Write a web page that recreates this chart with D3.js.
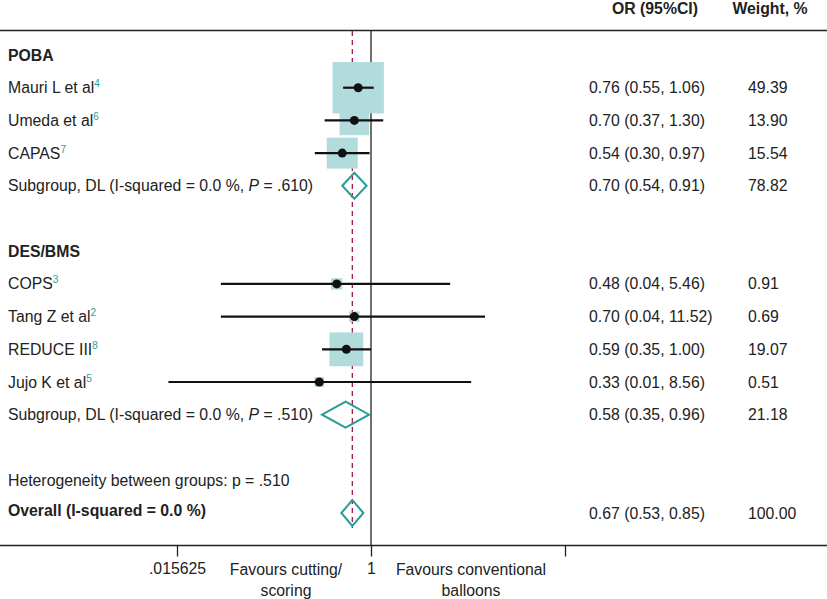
<!DOCTYPE html>
<html><head><meta charset="utf-8">
<script src="https://cdn.jsdelivr.net/npm/d3@7/dist/d3.min.js"></script>
<style>
body{margin:0;background:#fff;}
svg{display:block;font-family:"Liberation Sans",Arial,Helvetica,sans-serif;}
</style></head>
<body><svg id="c" width="827" height="599"></svg>
<script>
// ---- data ----
const studyNames = ["Mauri L et al","Umeda et al","CAPAS","COPS","Tang Z et al","REDUCE III","Jujo K et al"];
const studyRefs  = ["4","6","7","3","2","8","5"];
const studyGroup = ["POBA","POBA","POBA","DES/BMS","DES/BMS","DES/BMS","DES/BMS"];
const studyOR    = [0.76,0.70,0.54,0.48,0.70,0.59,0.33];
const studyLo    = [0.55,0.37,0.30,0.04,0.04,0.35,0.013];
const studyHi    = [1.06,1.30,0.97,5.46,11.52,1.00,8.56];
const studyW     = [49.39,13.90,15.54,0.91,0.69,19.07,0.51];
const groups     = ["POBA","DES/BMS"];
const subOR      = [0.70,0.58];
const subLo      = [0.54,0.35];
const subHi      = [0.91,0.96];
const subW       = [78.82,21.18];
const subP       = [".610",".510"];
const overallOR = 0.67, overallLo = 0.53, overallHi = 0.85, overallW = 100.00;
const hetP = ".510";
const xTicks = [0.015625, 1, 64];
const xTickLabels = [".015625","1",""];

// ---- layout ----
const svg = d3.select("#c");
const W = 827, H = 599;
const teal = "#2a9d96", boxFill = "#b2dcdc", red = "#a3164b";
const fs = 15.8;
const x = d3.scaleLog().base(2).domain([1/64, 64]).range([177, 565]);
const rowH = 32.7;
const y0 = 55;
const rows = [];
let r = 0;
groups.forEach((g, gi) => {
  rows.push({type:"header", label:g, row:r++});
  studyNames.forEach((n, i) => {
    if (studyGroup[i] === g) rows.push({type:"study", i, row:r++});
  });
  rows.push({type:"sub", gi, row:r++});
  r++;
});
const rowY = k => y0 + k * rowH;
const fmt = v => v.toFixed(2);

svg.append("line").attr("x1",0).attr("x2",W).attr("y1",30.5).attr("y2",30.5).attr("stroke","#222").attr("stroke-width",1.3);
const axisY = 545.5;
svg.append("line").attr("x1",0).attr("x2",W).attr("y1",axisY).attr("y2",axisY).attr("stroke","#222").attr("stroke-width",1.3);

svg.append("text").attr("x",655).attr("y",13.5).attr("text-anchor","middle").attr("font-weight","bold").attr("font-size",fs).attr("fill","#222").text("OR (95%CI)");
svg.append("text").attr("x",770).attr("y",13.5).attr("text-anchor","middle").attr("font-weight","bold").attr("font-size",fs).attr("fill","#222").text("Weight, %");

svg.append("line").attr("x1",x(1)).attr("x2",x(1)).attr("y1",31).attr("y2",axisY).attr("stroke","#222").attr("stroke-width",1.3);
svg.append("line").attr("x1",x(overallOR)).attr("x2",x(overallOR)).attr("y1",31).attr("y2",528)
  .attr("stroke",red).attr("stroke-width",1.3).attr("stroke-dasharray","5,4");

const axisG = svg.append("g").attr("transform",`translate(0,${axisY})`)
  .call(d3.axisBottom(x).tickValues(xTicks).tickFormat((d,i)=>xTickLabels[i]).tickSize(11).tickPadding(6));
axisG.select(".domain").remove();
axisG.selectAll(".tick line").attr("stroke","#222").attr("stroke-width",1.3);
axisG.selectAll(".tick text").attr("font-size",fs).attr("fill","#222").attr("font-family","Liberation Sans, Arial, sans-serif");

function twoLine(cx, l1, l2){
  const t = svg.append("text").attr("text-anchor","middle").attr("font-size",fs).attr("fill","#222");
  t.append("tspan").attr("x",cx).attr("y",575).text(l1);
  t.append("tspan").attr("x",cx).attr("y",596).text(l2);
}
twoLine(286,"Favours cutting/","scoring");
twoLine(471,"Favours conventional","balloons");

const boxSide = w => 6.6*Math.sqrt(w) + 5;
const textY = 5.5;

function diamond(cy, lo, est, hi, h){
  const pts = [[x(lo),cy],[x(est),cy-h],[x(hi),cy],[x(est),cy+h]];
  svg.append("polygon").attr("points",pts.map(p=>p.join(",")).join(" "))
    .attr("fill","none").attr("stroke",teal).attr("stroke-width",2);
}

rows.forEach(rw => {
  const cy = rowY(rw.row);
  if (rw.type === "header") {
    svg.append("text").attr("x",8).attr("y",cy+textY).attr("font-weight","bold").attr("font-size",fs).attr("fill","#222").text(rw.label);
  } else if (rw.type === "study") {
    const i = rw.i;
    const t = svg.append("text").attr("x",8).attr("y",cy+textY).attr("font-size",fs).attr("fill","#222");
    t.append("tspan").text(studyNames[i]);
    t.append("tspan").attr("font-size",10).attr("dy",-6).attr("fill",teal).text(studyRefs[i]);
    const s = boxSide(studyW[i]);
    svg.append("rect").attr("x",x(studyOR[i])-s/2).attr("y",cy-s/2).attr("width",s).attr("height",s).attr("fill",boxFill);
    svg.append("line").attr("x1",x(studyLo[i])).attr("x2",x(studyHi[i])).attr("y1",cy).attr("y2",cy).attr("stroke","#111").attr("stroke-width",2.2);
    svg.append("circle").attr("cx",x(studyOR[i])).attr("cy",cy).attr("r",4.5).attr("fill","#111");
    svg.append("text").attr("x",589).attr("y",cy+textY).attr("font-size",fs).attr("fill","#222")
      .text(`${fmt(studyOR[i])} (${fmt(studyLo[i])}, ${fmt(studyHi[i])})`);
    svg.append("text").attr("x",748).attr("y",cy+textY).attr("font-size",fs).attr("fill","#222").text(fmt(studyW[i]));
  } else {
    const gi = rw.gi;
    const t = svg.append("text").attr("x",8).attr("y",cy+textY).attr("font-size",fs).attr("fill","#222");
    t.append("tspan").text("Subgroup, DL (I-squared = 0.0 %, ");
    t.append("tspan").attr("font-style","italic").text("P");
    t.append("tspan").text(` = ${subP[gi]})`);
    diamond(cy, subLo[gi], subOR[gi], subHi[gi], 13);
    svg.append("text").attr("x",589).attr("y",cy+textY).attr("font-size",fs).attr("fill","#222")
      .text(`${fmt(subOR[gi])} (${fmt(subLo[gi])}, ${fmt(subHi[gi])})`);
    svg.append("text").attr("x",748).attr("y",cy+textY).attr("font-size",fs).attr("fill","#222").text(fmt(subW[gi]));
  }
});

svg.append("text").attr("x",8).attr("y",480+textY).attr("font-size",fs).attr("fill","#222").text(`Heterogeneity between groups: p = ${hetP}`);
const oy = 513;
svg.append("text").attr("x",8).attr("y",510+textY).attr("font-size",fs).attr("font-weight","bold").attr("fill","#222").text("Overall (I-squared = 0.0 %)");
diamond(oy, overallLo, overallOR, overallHi, 13);
svg.append("text").attr("x",589).attr("y",oy+textY).attr("font-size",fs).attr("fill","#222")
  .text(`${fmt(overallOR)} (${fmt(overallLo)}, ${fmt(overallHi)})`);
svg.append("text").attr("x",748).attr("y",oy+textY).attr("font-size",fs).attr("fill","#222").text(fmt(overallW));
</script></body></html>
